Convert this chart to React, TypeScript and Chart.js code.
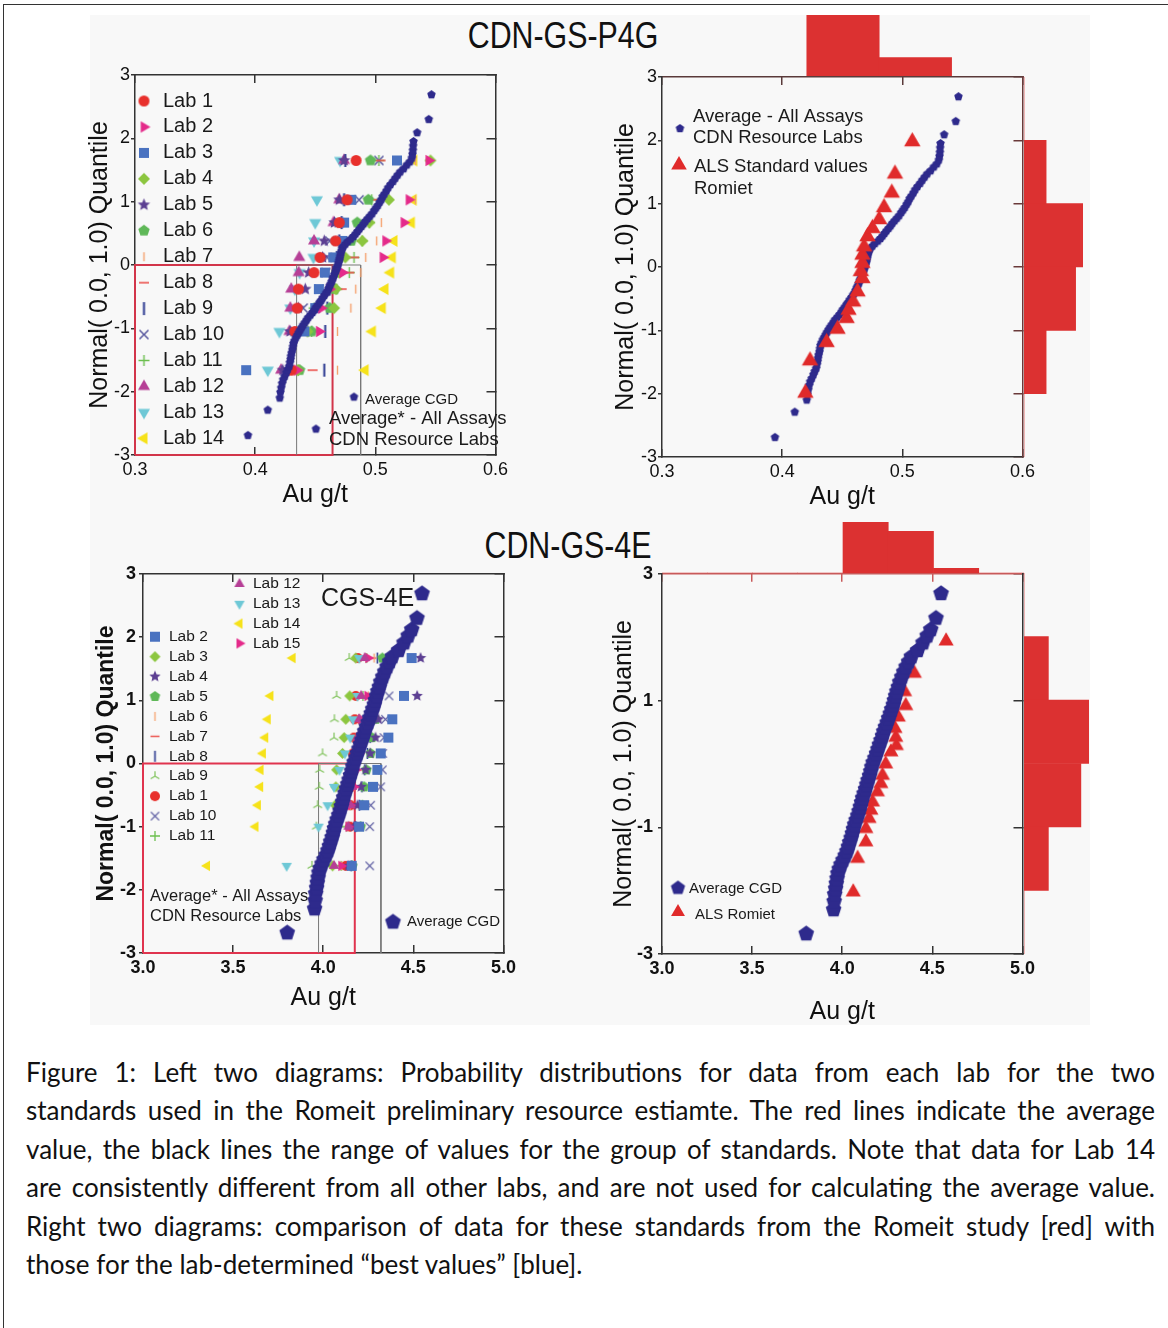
import React, { useEffect, useRef } from 'react';
import { Chart, registerables } from 'chart.js';

Chart.register(...registerables);

const FONT = "'Liberation Sans', Arial, Helvetica, sans-serif";
const RED = '#dc3131';
const NAVY = '#2e2a8c';

// ================= CDN-GS-P4G =================
const p4gXTicks = [0.3, 0.4, 0.5, 0.6];
const p4gYTicks = [-3, -2, -1, 0, 1, 2, 3];
const p4gRows = [-1.66, -1.05, -0.68, -0.38, -0.12, 0.12, 0.38, 0.67, 1.03, 1.65];

const p4gLab1 = [0.430, 0.433, 0.435, 0.436, 0.449, 0.454, 0.467, 0.470, 0.4765, 0.484];
const p4gLab2 = [0.435, 0.4533, 0.455, 0.462, 0.4727, 0.5063, 0.5086, 0.5238, 0.528, 0.5445];
const p4gLab3 = [0.3925, 0.441, 0.450, 0.453, 0.458, 0.465, 0.4725, 0.474, 0.480, 0.518];
const p4gLab4 = [0.4354, 0.4436, 0.4657, 0.467, 0.470, 0.475, 0.4892, 0.495, 0.5113, 0.5459];
const p4gLab5 = [0.423, 0.429, 0.436, 0.4417, 0.4445, 0.4561, 0.4575, 0.466, 0.470, 0.474];
const p4gLab6 = [0.437, 0.447, 0.462, 0.466, 0.468, 0.470, 0.480, 0.485, 0.4942, 0.496];
const p4gLab7 = [0.4685, 0.4685, 0.4796, 0.4837, 0.4879, 0.492, 0.5011, 0.505, 0.5334, 0.5334];
const p4gLab8 = [0.4478, 0.452, 0.455, 0.472, 0.4783, 0.4823, 0.489, 0.494, 0.498, 0.5044];
const p4gLab9 = [0.4575, 0.4583, 0.460, 0.462, 0.465, 0.468, 0.470, 0.472, 0.474, 0.475];
const p4gLab10 = [0.425, 0.433, 0.440, 0.4533, 0.4589, 0.460, 0.462, 0.470, 0.4865, 0.503];
const p4gLab11 = [0.436, 0.447, 0.449, 0.468, 0.4783, 0.4823, 0.489, 0.495, 0.497, 0.503];
const p4gLab12 = [0.4216, 0.4285, 0.4293, 0.4300, 0.4362, 0.4367, 0.4490, 0.4652, 0.4700, 0.4740];
const p4gLab13 = [0.4105, 0.4202, 0.4293, 0.433, 0.437, 0.4485, 0.4490, 0.4500, 0.4514, 0.4707];
const p4gLab14 = [0.4915, 0.4975, 0.5058, 0.508, 0.5127, 0.5141, 0.5155, 0.530, 0.5315, 0.532];

const p4gAvgQ = [
  -2.69, -2.29, -2.10, -2.01, -1.94, -1.87, -1.81, -1.76, -1.70, -1.65, -1.60, -1.54, -1.49, -1.44,
  -1.39, -1.34, -1.29, -1.24, -1.20, -1.15, -1.11, -1.07, -1.03, -0.99, -0.95, -0.91, -0.87, -0.83,
  -0.79, -0.75, -0.71, -0.67, -0.63, -0.59, -0.56, -0.52, -0.48, -0.44, -0.41, -0.37, -0.33, -0.30,
  -0.26, -0.22, -0.19, -0.15, -0.11, -0.08, -0.04, -0.01, 0.03, 0.07, 0.10, 0.14, 0.18, 0.22, 0.26,
  0.29, 0.33, 0.37, 0.41, 0.45, 0.49, 0.53, 0.57, 0.61, 0.65, 0.69, 0.73, 0.77, 0.81, 0.86, 0.90,
  0.94, 0.99, 1.03, 1.08, 1.12, 1.17, 1.22, 1.27, 1.32, 1.37, 1.42, 1.47, 1.52, 1.58, 1.63, 1.69,
  1.75, 1.81, 1.88, 1.95, 2.09, 2.30, 2.69,
];
const p4gAvgX = [
  0.3940, 0.4105, 0.4205, 0.4210, 0.4217, 0.4224, 0.4233, 0.4246, 0.4260, 0.4271, 0.4283, 0.4289, 0.4295, 0.4298,
  0.4303, 0.4310, 0.4314, 0.4319, 0.4326, 0.4338, 0.4350, 0.4362, 0.4373, 0.4386, 0.4399, 0.4414, 0.4428, 0.4441,
  0.4460, 0.4478, 0.4493, 0.4506, 0.4522, 0.4537, 0.4549, 0.4561, 0.4577, 0.4591, 0.4602, 0.4611, 0.4620, 0.4629,
  0.4637, 0.4645, 0.4651, 0.4659, 0.4668, 0.4674, 0.4681, 0.4687, 0.4692, 0.4699, 0.4703, 0.4707, 0.4712, 0.4717, 0.4724,
  0.4733, 0.4751, 0.4772, 0.4797, 0.4818, 0.4836, 0.4852, 0.4868, 0.4886, 0.4903, 0.4917, 0.4936, 0.4955, 0.4973, 0.4991, 0.5006,
  0.5021, 0.5036, 0.5049, 0.5061, 0.5075, 0.5092, 0.5107, 0.5126, 0.5148, 0.5166, 0.5186, 0.5207, 0.5236, 0.5263, 0.5288, 0.5304,
  0.5309, 0.5313, 0.5315, 0.5318, 0.5348, 0.5445, 0.5467,
];

const p4gAlsX = [0.4193, 0.4232, 0.4370, 0.4461, 0.4536, 0.4552, 0.4591, 0.4627, 0.4668, 0.4655, 0.4668, 0.4668, 0.4682, 0.4710, 0.4751, 0.4807, 0.4848, 0.4912, 0.4939, 0.5083];
const p4gAlsQ = [-1.99, -1.48, -1.19, -0.98, -0.81, -0.68, -0.55, -0.39, -0.18, -0.07, 0.06, 0.19, 0.32, 0.48, 0.61, 0.75, 0.94, 1.17, 1.47, 1.98];

const p4gMean = 0.4644;
const p4gRangeLow = 0.4345;
const p4gRangeHigh = 0.4878;

const p4gHistXBins = ['0.30-0.36', '0.36-0.42', '0.42-0.48', '0.48-0.54', '0.54-0.60'];
const p4gHistXCounts = [0, 0, 16, 5, 0];
const p4gHistQBins = ['2 to 3', '1 to 2', '0 to 1', '-1 to 0', '-2 to -1', '-3 to -2'];
const p4gHistQCounts = [0, 3, 8, 7, 3, 0];

// ================= CDN-GS-4E =================
const e4XTicks = [3.0, 3.5, 4.0, 4.5, 5.0];
const e4YTicksLeft = [-3, -2, -1, 0, 1, 2, 3];
const e4YTicksRight = [-3, -1, 1, 3];
const e4Rows = [-1.62, -1.00, -0.66, -0.37, -0.10, 0.16, 0.41, 0.70, 1.07, 1.67];

const e4Lab1 = [4.125, 4.149, 4.152, 4.156, 4.160, 4.165, 4.170, 4.175, 4.180, 4.192];
const e4Lab2 = [4.158, 4.199, 4.227, 4.276, 4.300, 4.319, 4.361, 4.383, 4.448, 4.490];
const e4Lab3 = [4.052, 4.060, 4.066, 4.070, 4.074, 4.107, 4.116, 4.125, 4.147, 4.180];
const e4Lab4 = [4.140, 4.170, 4.190, 4.210, 4.235, 4.260, 4.290, 4.306, 4.521, 4.540];
const e4Lab5 = [4.162, 4.208, 4.217, 4.227, 4.240, 4.263, 4.270, 4.290, 4.300, 4.328];
const e4Lab6 = [4.100, 4.130, 4.150, 4.170, 4.190, 4.200, 4.210, 4.230, 4.250, 4.282];
const e4Lab7 = [4.120, 4.150, 4.170, 4.180, 4.195, 4.205, 4.220, 4.235, 4.255, 4.270];
const e4Lab8 = [4.155, 4.180, 4.200, 4.215, 4.230, 4.245, 4.260, 4.275, 4.290, 4.300];
const e4Lab9 = [3.937, 3.962, 3.969, 3.978, 3.980, 3.996, 4.060, 4.062, 4.074, 4.144];
const e4Lab10 = [4.258, 4.258, 4.263, 4.319, 4.328, 4.330, 4.337, 4.345, 4.365, 4.370];
const e4Lab11 = [4.100, 4.130, 4.150, 4.160, 4.170, 4.180, 4.190, 4.200, 4.220, 4.240];
const e4Lab12 = [4.060, 4.140, 4.150, 4.160, 4.170, 4.180, 4.190, 4.200, 4.210, 4.230];
const e4Lab13 = [3.797, 3.974, 4.024, 4.060, 4.090, 4.120, 4.150, 4.165, 4.190, 4.200];
const e4Lab14 = [3.355, 3.624, 3.637, 3.650, 3.652, 3.665, 3.678, 3.692, 3.707, 3.830];
const e4Lab15 = [4.100, 4.140, 4.150, 4.170, 4.180, 4.190, 4.200, 4.210, 4.245, 4.250];

const e4AvgQ = [
  -2.68, -2.30, -2.17, -2.06, -1.97, -1.89, -1.81, -1.73, -1.66, -1.59, -1.52, -1.45, -1.38, -1.31,
  -1.24, -1.17, -1.10, -1.03, -0.96, -0.89, -0.82, -0.75, -0.68, -0.61, -0.54, -0.47, -0.40, -0.33,
  -0.26, -0.19, -0.12, -0.05, 0.02, 0.09, 0.16, 0.23, 0.30, 0.37, 0.44, 0.51, 0.58, 0.65, 0.72, 0.79,
  0.86, 0.93, 1.00, 1.07, 1.14, 1.21, 1.29, 1.37, 1.45, 1.53, 1.61, 1.69, 1.79, 1.91, 2.02, 2.12, 2.30, 2.69,
];
const e4AvgX = [
  3.800, 3.952, 3.955, 3.958, 3.963, 3.967, 3.971, 3.976, 3.983, 3.993, 4.004, 4.016, 4.026, 4.034,
  4.041, 4.049, 4.056, 4.062, 4.069, 4.077, 4.086, 4.093, 4.100, 4.107, 4.113, 4.121, 4.129, 4.136,
  4.143, 4.151, 4.158, 4.164, 4.171, 4.181, 4.190, 4.198, 4.206, 4.215, 4.223, 4.230, 4.239, 4.249, 4.257, 4.266,
  4.274, 4.283, 4.289, 4.296, 4.303, 4.311, 4.319, 4.330, 4.341, 4.354, 4.368, 4.383, 4.418, 4.448, 4.471, 4.491, 4.520, 4.548,
];

const e4AlsX = [4.061, 4.085, 4.131, 4.131, 4.149, 4.159, 4.168, 4.195, 4.214, 4.223, 4.241, 4.270, 4.300, 4.297, 4.293, 4.311, 4.352, 4.346, 4.400, 4.576];
const e4AlsQ = [-2.02, -1.49, -1.23, -1.02, -0.86, -0.73, -0.60, -0.44, -0.31, -0.18, 0.00, 0.19, 0.29, 0.42, 0.56, 0.74, 0.92, 1.14, 1.43, 1.94];

const e4Mean = 4.175;
const e4RangeLow = 3.974;
const e4RangeHigh = 4.32;

const e4HistXBins = ['3.00-3.25', '3.25-3.50', '3.50-3.75', '3.75-4.00', '4.00-4.25', '4.25-4.50', '4.50-4.75', '4.75-5.00'];
const e4HistXCounts = [0, 0, 0, 0, 11, 9, 1, 0];
const e4HistQBins = ['2 to 3', '1 to 2', '0 to 1', '-1 to 0', '-2 to -1', '-3 to -2'];
const e4HistQCounts = [0, 3, 8, 7, 3, 0];

const captionLines = [
  'Figure 1: Left two diagrams:  Probability distributions for data from each lab for the two',
  'standards used in the Romeit preliminary resource estiamte. The red lines indicate the average',
  'value, the black lines the range of values for the group of standards. Note that data for Lab 14',
  'are consistently different from all other labs, and are not used for calculating the average value.',
  'Right two diagrams: comparison of data for these standards from the Romeit study [red] with',
  'those for the lab-determined \u201Cbest values\u201D [blue].',
];

// ================= marker drawing =================
function makeMarker(shape: string, color: string, size: number, lw = 1.6): HTMLCanvasElement {
  const dim = Math.ceil(size) + 4;
  const c = document.createElement('canvas');
  c.width = dim;
  c.height = dim;
  const g = c.getContext('2d') as CanvasRenderingContext2D;
  const cx = dim / 2;
  const cy = dim / 2;
  const r = size / 2;
  g.fillStyle = color;
  g.strokeStyle = color;
  g.lineWidth = lw;
  const poly = (angles: number[], radii?: number[]) => {
    g.beginPath();
    angles.forEach((a, i) => {
      const rr = radii ? radii[i] : r;
      const px = cx + rr * Math.cos((a * Math.PI) / 180);
      const py = cy + rr * Math.sin((a * Math.PI) / 180);
      if (i === 0) g.moveTo(px, py);
      else g.lineTo(px, py);
    });
    g.closePath();
    g.fill();
  };
  switch (shape) {
    case 'circle':
      g.beginPath();
      g.arc(cx, cy, r, 0, Math.PI * 2);
      g.fill();
      break;
    case 'square':
      g.fillRect(cx - r, cy - r, size, size);
      break;
    case 'diamond':
      poly([-90, 0, 90, 180]);
      break;
    case 'triUp':
      poly([-90, 30, 150]);
      break;
    case 'triDown':
      poly([90, 210, 330]);
      break;
    case 'triLeft':
      poly([180, 300, 60]);
      break;
    case 'triRight':
      poly([0, 120, 240]);
      break;
    case 'pentagon':
      poly([-90, -18, 54, 126, 198]);
      break;
    case 'star':
      poly(
        [-90, -54, -18, 18, 54, 90, 126, 162, 198, 234],
        [r, r * 0.45, r, r * 0.45, r, r * 0.45, r, r * 0.45, r, r * 0.45]
      );
      break;
    case 'vbar':
      g.fillRect(cx - lw / 2, cy - r, lw, size);
      break;
    case 'hbar':
      g.fillRect(cx - r, cy - lw / 2, size, lw);
      break;
    case 'cross':
      g.beginPath();
      g.moveTo(cx - r, cy);
      g.lineTo(cx + r, cy);
      g.moveTo(cx, cy - r);
      g.lineTo(cx, cy + r);
      g.stroke();
      break;
    case 'x': {
      const d = r * 0.75;
      g.beginPath();
      g.moveTo(cx - d, cy - d);
      g.lineTo(cx + d, cy + d);
      g.moveTo(cx + d, cy - d);
      g.lineTo(cx - d, cy + d);
      g.stroke();
      break;
    }
    case 'tri3':
      g.beginPath();
      g.moveTo(cx, cy);
      g.lineTo(cx, cy - r);
      g.moveTo(cx, cy);
      g.lineTo(cx - r * 0.87, cy + r * 0.5);
      g.moveTo(cx, cy);
      g.lineTo(cx + r * 0.87, cy + r * 0.5);
      g.stroke();
      break;
    default:
      break;
  }
  return c;
}

// style tables (built from the data arrays)
const p4gLabs = [
  { label: 'Lab 1', data: p4gLab1, shape: 'circle', color: '#e8302c', size: 11 },
  { label: 'Lab 2', data: p4gLab2, shape: 'triRight', color: '#e42a8a', size: 13 },
  { label: 'Lab 3', data: p4gLab3, shape: 'square', color: '#4a72c0', size: 10 },
  { label: 'Lab 4', data: p4gLab4, shape: 'diamond', color: '#8cc63f', size: 12 },
  { label: 'Lab 5', data: p4gLab5, shape: 'star', color: '#5c3f92', size: 13 },
  { label: 'Lab 6', data: p4gLab6, shape: 'pentagon', color: '#5fb858', size: 12 },
  { label: 'Lab 7', data: p4gLab7, shape: 'vbar', color: '#f5a26e', size: 9, lw: 1.4 },
  { label: 'Lab 8', data: p4gLab8, shape: 'hbar', color: '#ec5550', size: 10, lw: 1.6 },
  { label: 'Lab 9', data: p4gLab9, shape: 'vbar', color: '#2b3990', size: 13, lw: 2 },
  { label: 'Lab 10', data: p4gLab10, shape: 'x', color: '#5a5aa0', size: 12, lw: 1.5 },
  { label: 'Lab 11', data: p4gLab11, shape: 'cross', color: '#6cbf4f', size: 11, lw: 1.4 },
  { label: 'Lab 12', data: p4gLab12, shape: 'triUp', color: '#b63f96', size: 14 },
  { label: 'Lab 13', data: p4gLab13, shape: 'triDown', color: '#6ec8d6', size: 14 },
  { label: 'Lab 14', data: p4gLab14, shape: 'triLeft', color: '#f6e21a', size: 14 },
];

const e4LabsA = [
  { label: 'Lab 12', data: e4Lab12, shape: 'triUp', color: '#b63f96', size: 12 },
  { label: 'Lab 13', data: e4Lab13, shape: 'triDown', color: '#6ec8d6', size: 12 },
  { label: 'Lab 14', data: e4Lab14, shape: 'triLeft', color: '#f6e21a', size: 12 },
  { label: 'Lab 15', data: e4Lab15, shape: 'triRight', color: '#e42a8a', size: 12 },
];
const e4LabsB = [
  { label: 'Lab 2', data: e4Lab2, shape: 'square', color: '#4a72c0', size: 10 },
  { label: 'Lab 3', data: e4Lab3, shape: 'diamond', color: '#8cc63f', size: 11 },
  { label: 'Lab 4', data: e4Lab4, shape: 'star', color: '#5c3f92', size: 12 },
  { label: 'Lab 5', data: e4Lab5, shape: 'pentagon', color: '#5fb858', size: 11 },
  { label: 'Lab 6', data: e4Lab6, shape: 'vbar', color: '#f5a26e', size: 9, lw: 1.3 },
  { label: 'Lab 7', data: e4Lab7, shape: 'hbar', color: '#ec5550', size: 9, lw: 1.5 },
  { label: 'Lab 8', data: e4Lab8, shape: 'vbar', color: '#2b3990', size: 11, lw: 1.6 },
  { label: 'Lab 9', data: e4Lab9, shape: 'tri3', color: '#7fc25a', size: 10, lw: 1.2 },
  { label: 'Lab 1', data: e4Lab1, shape: 'circle', color: '#e8302c', size: 10 },
  { label: 'Lab 10', data: e4Lab10, shape: 'x', color: '#5a5aa0', size: 11, lw: 1.4 },
  { label: 'Lab 11', data: e4Lab11, shape: 'cross', color: '#6cbf4f', size: 10, lw: 1.3 },
];

// ================= helpers =================
type Box = { left: number; top: number; width: number; height: number };

function pts(xs: number[], ys: number[]) {
  return xs.map((x, i) => ({ x, y: ys[i] }));
}

function pointSet(label: string, data: any[], marker: HTMLCanvasElement) {
  return { label, data, pointStyle: marker, pointRadius: 5, pointHoverRadius: 5, showLine: false };
}

function pathSet(label: string, data: any[], color: string, width: number) {
  return {
    label,
    data,
    showLine: true,
    borderColor: color,
    borderWidth: width,
    pointRadius: 0,
    pointHoverRadius: 0,
    fill: false,
    tension: 0,
    clip: 6,
  };
}

function overlay(box: Box, items: any[]) {
  return {
    id: 'overlay',
    afterDatasetsDraw(chart: any) {
      const ctx = chart.ctx as CanvasRenderingContext2D;
      ctx.save();
      for (const it of items) {
        const x = it.x - box.left;
        const y = it.y - box.top;
        if (it.marker) ctx.drawImage(it.marker, x - it.marker.width / 2, y - it.marker.height / 2);
        if (it.text !== undefined) {
          ctx.font = it.font;
          ctx.fillStyle = it.color || '#1a1a1a';
          ctx.textAlign = 'left';
          ctx.textBaseline = 'middle';
          ctx.fillText(it.text, x, y);
        }
      }
      ctx.restore();
    },
  };
}

type FrameOpts = {
  xTicks: number[];
  yTicks: number[];
  yRightTicks: number[];
  leftW: number;
  rightW: number;
  topH: number;
  bottomH: number;
  bold: boolean;
  yTitleSize: number;
  yTitleBold: boolean;
  yTitlePad: number;
  xTitlePad: number;
  yTickGap: number;
  topColor: string;
  rightColor: string;
};

function frameScales(o: FrameOpts) {
  const tickFont = { family: FONT, size: 18, weight: o.bold ? 'bold' : 'normal' };
  const setTicks = (arr: number[]) => (s: any) => {
    s.ticks = arr.map((v) => ({ value: v }));
  };
  const inGrid = (color: string, len: number) => ({
    display: true,
    drawOnChartArea: false,
    drawTicks: true,
    tickLength: len,
    color,
    lineWidth: 1.5,
  });
  const xMin = o.xTicks[0];
  const xMax = o.xTicks[o.xTicks.length - 1];
  return {
    x: {
      type: 'linear',
      position: 'bottom',
      min: xMin,
      max: xMax,
      afterBuildTicks: setTicks(o.xTicks),
      ticks: {
        autoSkip: false,
        maxRotation: 0,
        padding: 12,
        color: '#111',
        font: tickFont,
        callback: (v: any) => Number(v).toFixed(1),
      },
      grid: inGrid('#333', -8),
      border: { display: true, color: '#333', width: 1.5 },
      title: {
        display: true,
        text: 'Au g/t',
        color: '#111',
        font: { family: FONT, size: 25 },
        padding: { top: 0, bottom: o.xTitlePad },
      },
      afterFit: (s: any) => {
        s.height = o.bottomH;
      },
    },
    xTop: {
      type: 'linear',
      position: 'top',
      min: xMin,
      max: xMax,
      afterBuildTicks: setTicks(o.xTicks),
      ticks: { display: false },
      grid: inGrid(o.topColor, -8),
      border: { display: true, color: o.topColor, width: 1.5 },
      afterFit: (s: any) => {
        s.height = o.topH;
      },
    },
    y: {
      type: 'linear',
      position: 'left',
      min: -3,
      max: 3,
      afterBuildTicks: setTicks(o.yTicks),
      ticks: {
        autoSkip: false,
        padding: o.yTickGap - 4,
        color: '#111',
        font: tickFont,
        callback: (v: any) => String(v),
      },
      grid: inGrid('#333', 4),
      border: { display: true, color: '#333', width: 1.5 },
      title: {
        display: true,
        text: 'Normal( 0.0, 1.0) Quantile',
        color: '#111',
        font: { family: FONT, size: o.yTitleSize, weight: o.yTitleBold ? 'bold' : 'normal' },
        padding: { top: o.yTitlePad, bottom: 0 },
      },
      afterFit: (s: any) => {
        s.width = o.leftW;
      },
    },
    yRight: {
      type: 'linear',
      position: 'right',
      min: -3,
      max: 3,
      afterBuildTicks: setTicks(o.yRightTicks),
      ticks: { display: false },
      grid: inGrid(o.rightColor, -9),
      border: { display: true, color: o.rightColor, width: 1.5 },
      afterFit: (s: any) => {
        s.width = o.rightW;
      },
    },
  };
}

const baseOptions = {
  animation: false,
  responsive: false,
  events: [],
  layout: { padding: 0 },
  plugins: { legend: { display: false }, tooltip: { enabled: false }, title: { display: false } },
};

function histTop(labels: string[], counts: number[], max: number) {
  return {
    type: 'bar',
    data: {
      labels,
      datasets: [{ data: counts, backgroundColor: RED, borderWidth: 0, barPercentage: 1, categoryPercentage: 1 }],
    },
    options: {
      ...baseOptions,
      scales: { x: { type: 'category', display: false }, y: { display: false, min: 0, max } },
    },
  };
}

function histSide(labels: string[], counts: number[], max: number) {
  return {
    type: 'bar',
    data: {
      labels,
      datasets: [{ data: counts, backgroundColor: RED, borderWidth: 0, barPercentage: 1, categoryPercentage: 1 }],
    },
    options: {
      ...baseOptions,
      indexAxis: 'y',
      scales: { y: { type: 'category', display: false }, x: { display: false, min: 0, max } },
    },
  };
}

// ================= chart builders =================
const BOX_TL: Box = { left: 80, top: 60, width: 440, height: 455 };
const BOX_TR: Box = { left: 605, top: 62, width: 442, height: 455 };
const BOX_TR_TOP: Box = { left: 662, top: 15, width: 362, height: 62 };
const BOX_TR_SIDE: Box = { left: 1024, top: 77, width: 59, height: 380 };
const BOX_BL: Box = { left: 85, top: 559, width: 443, height: 459 };
const BOX_BR: Box = { left: 605, top: 558, width: 442, height: 472 };
const BOX_BR_TOP: Box = { left: 662, top: 522, width: 362, height: 51 };
const BOX_BR_SIDE: Box = { left: 1024, top: 573, width: 65, height: 381 };

function buildTL(box: Box) {
  const avgMarker = makeMarker('pentagon', NAVY, 9);
  const labMarkers = p4gLabs.map((l: any) => makeMarker(l.shape, l.color, l.size, l.lw));
  const datasets: any[] = [pointSet('Average CGD', pts(p4gAvgX, p4gAvgQ), avgMarker)];
  p4gLabs.forEach((l, i) => datasets.push(pointSet(l.label, pts(l.data, p4gRows), labMarkers[i])));
  datasets.push(
    pathSet('Range', [
      { x: p4gRangeLow, y: -3 },
      { x: p4gRangeLow, y: 0 },
      { x: p4gRangeHigh, y: 0 },
      { x: p4gRangeHigh, y: -3 },
    ], '#777', 1)
  );
  datasets.push(
    pathSet('Average', [
      { x: p4gXTicks[0], y: -3 },
      { x: p4gXTicks[0], y: 0 },
      { x: p4gMean, y: 0 },
      { x: p4gMean, y: -3 },
      { x: p4gXTicks[0], y: -3 },
    ], '#d2354a', 2)
  );
  const items: any[] = [];
  p4gLabs.forEach((l, i) => {
    const y = 101 + 25.95 * i;
    items.push({ x: 144, y, marker: labMarkers[i] });
    items.push({ x: 163, y, text: l.label, font: `20px ${FONT}` });
  });
  items.push({ x: 354, y: 397, marker: avgMarker });
  items.push({ x: 365, y: 399.5, text: 'Average CGD', font: `15px ${FONT}` });
  items.push({ x: 316, y: 429, marker: avgMarker });
  items.push({ x: 329, y: 418.5, text: 'Average* - All Assays', font: `18.5px ${FONT}` });
  items.push({ x: 329, y: 440, text: 'CDN Resource Labs', font: `18.5px ${FONT}` });
  return {
    type: 'scatter',
    data: { datasets },
    options: {
      ...baseOptions,
      scales: frameScales({
        xTicks: p4gXTicks, yTicks: p4gYTicks, yRightTicks: p4gYTicks,
        leftW: 55, rightW: 23, topH: 15, bottomH: 60, bold: false,
        yTitleSize: 25, yTitleBold: false, yTitlePad: 5, xTitlePad: 5, yTickGap: 5,
        topColor: '#333', rightColor: '#333',
      }),
    },
    plugins: [overlay(box, items)],
  };
}

function buildTR(box: Box) {
  const avgMarker = makeMarker('pentagon', NAVY, 9);
  const alsMarker = makeMarker('triUp', '#e02a2a', 19);
  const legTri = makeMarker('triUp', '#e02a2a', 18);
  const datasets: any[] = [
    pointSet('ALS Standard values Romiet', pts(p4gAlsX, p4gAlsQ), alsMarker),
    pointSet('Average - All Assays CDN Resource Labs', pts(p4gAvgX, p4gAvgQ), avgMarker),
  ];
  const f = `18.5px ${FONT}`;
  const items = [
    { x: 680, y: 128.5, marker: avgMarker },
    { x: 693, y: 116.5, text: 'Average - All Assays', font: f },
    { x: 693, y: 138, text: 'CDN Resource Labs', font: f },
    { x: 679, y: 165, marker: legTri },
    { x: 694, y: 166.5, text: 'ALS Standard values', font: f },
    { x: 694, y: 189, text: 'Romiet', font: f },
  ];
  return {
    type: 'scatter',
    data: { datasets },
    options: {
      ...baseOptions,
      scales: frameScales({
        xTicks: p4gXTicks, yTicks: p4gYTicks, yRightTicks: p4gYTicks,
        leftW: 57, rightW: 23, topH: 15, bottomH: 60, bold: false,
        yTitleSize: 25, yTitleBold: false, yTitlePad: 6, xTitlePad: 5, yTickGap: 5,
        topColor: '#5a3a3a', rightColor: '#6a3a3a',
      }),
    },
    plugins: [overlay(box, items)],
  };
}

function buildBL(box: Box) {
  const avgMarker = makeMarker('pentagon', NAVY, 16.5);
  const allLabs = [...e4LabsA, ...e4LabsB];
  const markers = allLabs.map((l: any) => makeMarker(l.shape, l.color, l.size, l.lw));
  const datasets: any[] = [pointSet('Average CGD', pts(e4AvgX, e4AvgQ), avgMarker)];
  allLabs.forEach((l, i) => datasets.push(pointSet(l.label, pts(l.data, e4Rows), markers[i])));
  datasets.push(
    pathSet('Range', [
      { x: e4RangeLow, y: -3 },
      { x: e4RangeLow, y: 0 },
      { x: e4RangeHigh, y: 0 },
      { x: e4RangeHigh, y: -3 },
    ], '#777', 1)
  );
  datasets.push(
    pathSet('Average', [
      { x: e4XTicks[0], y: -3 },
      { x: e4XTicks[0], y: 0 },
      { x: e4Mean, y: 0 },
      { x: e4Mean, y: -3 },
      { x: e4XTicks[0], y: -3 },
    ], '#e0344e', 2)
  );
  const lf = `15.5px ${FONT}`;
  const items: any[] = [];
  e4LabsA.forEach((l, i) => {
    const y = 584 + 19.8 * i;
    items.push({ x: 239.5, y, marker: markers[i] });
    items.push({ x: 253, y, text: l.label, font: lf });
  });
  e4LabsB.forEach((l, i) => {
    const y = 636.7 + 19.93 * i;
    items.push({ x: 155, y, marker: markers[e4LabsA.length + i] });
    items.push({ x: 169, y, text: l.label, font: lf });
  });
  items.push({ x: 321, y: 599, text: 'CGS-4E', font: `25px ${FONT}` });
  items.push({ x: 150, y: 896.5, text: 'Average* - All Assays', font: `16.5px ${FONT}` });
  items.push({ x: 150, y: 916, text: 'CDN Resource Labs', font: `16.5px ${FONT}` });
  items.push({ x: 393, y: 922, marker: avgMarker });
  items.push({ x: 407, y: 922, text: 'Average CGD', font: `15px ${FONT}` });
  return {
    type: 'scatter',
    data: { datasets },
    options: {
      ...baseOptions,
      scales: frameScales({
        xTicks: e4XTicks, yTicks: e4YTicksLeft, yRightTicks: e4YTicksLeft,
        leftW: 58, rightW: 23, topH: 15, bottomH: 65, bold: true,
        yTitleSize: 23, yTitleBold: true, yTitlePad: 8, xTitlePad: 5, yTickGap: 7,
        topColor: '#333', rightColor: '#333',
      }),
    },
    plugins: [overlay(box, items)],
  };
}

function buildBR(box: Box) {
  const avgMarker = makeMarker('pentagon', NAVY, 16.5);
  const alsMarker = makeMarker('triUp', '#e02a2a', 17.5);
  const legPent = makeMarker('pentagon', NAVY, 15);
  const legTri = makeMarker('triUp', '#e02a2a', 16);
  const datasets: any[] = [
    pointSet('Average CGD', pts(e4AvgX, e4AvgQ), avgMarker),
    pointSet('ALS Romiet', pts(e4AlsX, e4AlsQ), alsMarker),
  ];
  const f = `15px ${FONT}`;
  const items = [
    { x: 678, y: 888, marker: legPent },
    { x: 689, y: 888.5, text: 'Average CGD', font: f },
    { x: 678, y: 912, marker: legTri },
    { x: 695, y: 915, text: 'ALS Romiet', font: f },
  ];
  return {
    type: 'scatter',
    data: { datasets },
    options: {
      ...baseOptions,
      scales: frameScales({
        xTicks: e4XTicks, yTicks: e4YTicksRight, yRightTicks: e4YTicksRight,
        leftW: 57, rightW: 23, topH: 15, bottomH: 76, bold: true,
        yTitleSize: 25, yTitleBold: false, yTitlePad: 4, xTitlePad: 3, yTickGap: 9,
        topColor: '#c85a5a', rightColor: '#333',
      }),
    },
    plugins: [overlay(box, items)],
  };
}

// ================= React =================
function ChartCanvas({ box, make }: { box: Box; make: (b: Box) => any }) {
  const ref = useRef<HTMLCanvasElement>(null);
  useEffect(() => {
    const chart = new Chart(ref.current as HTMLCanvasElement, make(box));
    return () => chart.destroy();
  }, []);
  return (
    <canvas
      ref={ref}
      width={box.width}
      height={box.height}
      style={{ position: 'absolute', left: box.left, top: box.top, width: box.width, height: box.height }}
    />
  );
}

const titleStyle: any = {
  position: 'absolute',
  width: 400,
  textAlign: 'center',
  fontFamily: FONT,
  fontSize: 37,
  lineHeight: '37px',
  color: '#111',
  transform: 'scaleX(0.82)',
  transformOrigin: 'center',
  whiteSpace: 'nowrap',
};

export default function App() {
  return (
    <div
      style={{
        position: 'fixed',
        left: 0,
        top: 0,
        width: 1168,
        height: 1328,
        overflow: 'hidden',
        background: '#ffffff',
      }}
    >
      <div style={{ position: 'absolute', left: 3, top: 4, width: 1200, height: 1400, border: '1px solid #333' }} />
      <div style={{ position: 'absolute', left: 90, top: 15, width: 1000, height: 1010, background: '#f8f8f8' }} />
      <div style={{ ...titleStyle, left: 362.5, top: 17 }}>CDN-GS-P4G</div>
      <div style={{ ...titleStyle, left: 367.5, top: 527 }}>CDN-GS-4E</div>

      <ChartCanvas box={BOX_TR_TOP} make={() => histTop(p4gHistXBins, p4gHistXCounts, 16)} />
      <ChartCanvas box={BOX_TR_SIDE} make={() => histSide(p4gHistQBins, p4gHistQCounts, 8)} />
      <ChartCanvas box={BOX_BR_TOP} make={() => histTop(e4HistXBins, e4HistXCounts, 11)} />
      <ChartCanvas box={BOX_BR_SIDE} make={() => histSide(e4HistQBins, e4HistQCounts, 8)} />

      <ChartCanvas box={BOX_TL} make={buildTL} />
      <ChartCanvas box={BOX_TR} make={buildTR} />
      <ChartCanvas box={BOX_BL} make={buildBL} />
      <ChartCanvas box={BOX_BR} make={buildBR} />

      <div
        style={{
          position: 'absolute',
          left: 26,
          top: 1053,
          width: 1129,
          fontFamily: "Lato, 'Open Sans', sans-serif",
          fontSize: 26,
          lineHeight: '38.4px',
          color: '#111',
        }}
      >
        {captionLines.map((line, i) => {
          const last = i === captionLines.length - 1;
          return (
            <div
              key={i}
              style={{ textAlign: last ? 'left' : 'justify', textAlignLast: last ? 'left' : 'justify' } as any}
            >
              {line}
            </div>
          );
        })}
      </div>
    </div>
  );
}
